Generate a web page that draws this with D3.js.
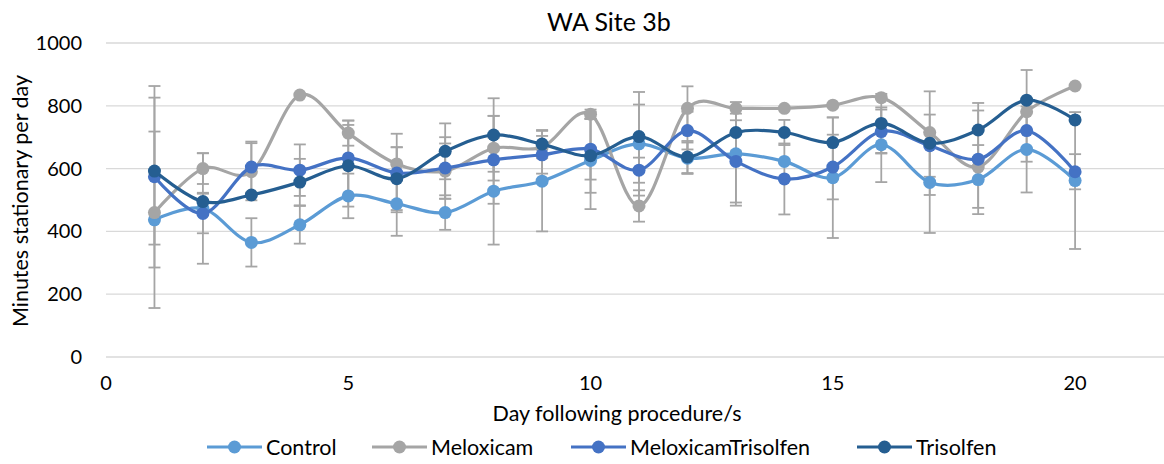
<!DOCTYPE html>
<html>
<head>
<meta charset="utf-8">
<script src="https://cdn.jsdelivr.net/npm/d3@7"></script>
<style>
  body { margin: 0; background: #fff; }
  text { font-family: Lato, 'Noto Sans', sans-serif; fill: #000; }
</style>
</head>
<body>
<div id="svg"></div>
<script>
let w = 1164;
let h = 464;

// data
let days = [1, 2, 3, 4, 5, 6, 7, 8, 9, 10, 11, 12, 13, 14, 15, 16, 17, 18, 19, 20];
let control   = [437, 473, 365, 421, 513, 488, 460, 528, 560, 626, 679, 633, 647, 623, 571, 676, 556, 565, 661, 562];
let meloxicam = [460, 600, 590, 834, 713, 615, 592, 665, 668, 773, 481, 792, 792, 792, 802, 826, 715, 605, 781, 863];
let meloTris  = [574, 457, 605, 595, 634, 586, 602, 628, 644, 662, 595, 721, 623, 567, 605, 718, 673, 630, 721, 590];
let trisolfen = [592, 495, 516, 557, 609, 568, 655, 707, 678, 641, 702, 637, 715, 715, 683, 744, 681, 723, 818, 755];

// +/- error (0 = no bar shown)
let controlErr   = [281, 176, 77, 60, 71, 102, 55, 170, 160, 155, 165, 50, 165, 0, 192, 119, 161, 110, 137, 218];
let meloxicamErr = [0, 49, 91, 0, 40, 53, 88, 103, 0, 15, 50, 70, 0, 0, 0, 0, 0, 0, 0, 0];
let meloTrisErr  = [289, 63, 81, 82, 119, 125, 98, 140, 60, 97, 40, 60, 131, 113, 103, 70, 99, 155, 99, 56];
let trisolfenErr = [234, 28, 0, 74, 130, 100, 89, 117, 45, 118, 102, 51, 60, 40, 80, 94, 165, 86, 96, 0];

let seriesNames = ['Control', 'Meloxicam', 'MeloxicamTrisolfen', 'Trisolfen'];
let yTicks = [0, 200, 400, 600, 800, 1000];
let xTicks = [0, 5, 10, 15, 20];

let colors = ['#5B9BD5', '#A5A5A5', '#4472C4', '#255E91'];
let values = [control, meloxicam, meloTris, trisolfen];
let errs = [controlErr, meloxicamErr, meloTrisErr, trisolfenErr];

let series = seriesNames.map((name, k) => ({
  name: name,
  color: colors[k],
  points: days.map((d, i) => ({ x: d, y: values[k][i], e: errs[k][i] }))
}));

let svg = d3.select('#svg')
  .append('svg')
  .attr('width', w)
  .attr('height', h);

svg.append('rect').attr('width', w).attr('height', h).attr('fill', '#fff');

let xScale = d3.scaleLinear().domain([0, 22]).range([106, 1172]);
let yScale = d3.scaleLinear().domain([0, 1000]).range([357, 43]);

// gridlines
svg.append('g')
  .selectAll('line')
  .data(yTicks)
  .enter()
  .append('line')
  .attr('x1', xScale(0))
  .attr('x2', w)
  .attr('y1', d => yScale(d))
  .attr('y2', d => yScale(d))
  .style('stroke', '#D9D9D9')
  .style('stroke-width', 1.3);

// y tick labels
svg.append('g')
  .selectAll('text')
  .data(yTicks)
  .enter()
  .append('text')
  .attr('x', 82)
  .attr('y', d => yScale(d))
  .attr('dy', '0.35em')
  .attr('text-anchor', 'end')
  .style('font-size', '20px')
  .text(d => d);

// x tick labels
svg.append('g')
  .selectAll('text')
  .data(xTicks)
  .enter()
  .append('text')
  .attr('x', d => xScale(d))
  .attr('y', 390)
  .attr('text-anchor', 'middle')
  .style('font-size', '20px')
  .text(d => d);

// titles
svg.append('text')
  .text('WA Site 3b')
  .attr('x', 609)
  .attr('y', 31)
  .attr('text-anchor', 'middle')
  .style('font-size', '25px');

svg.append('text')
  .text('Day following procedure/s')
  .attr('x', 617)
  .attr('y', 421)
  .attr('text-anchor', 'middle')
  .style('font-size', '21.5px');

svg.append('text')
  .text('Minutes stationary per day')
  .attr('transform', 'translate(28,201) rotate(-90)')
  .attr('text-anchor', 'middle')
  .style('font-size', '21.5px');

// error bars (gray)
let errG = svg.append('g');
series.forEach(s => {
  let pts = s.points.filter(p => p.e > 0);
  let g = errG.append('g');
  g.selectAll('line.stem')
    .data(pts).enter().append('line')
    .attr('x1', p => xScale(p.x)).attr('x2', p => xScale(p.x))
    .attr('y1', p => yScale(p.y + p.e)).attr('y2', p => yScale(p.y - p.e));
  g.selectAll('line.top')
    .data(pts).enter().append('line')
    .attr('x1', p => xScale(p.x) - 6).attr('x2', p => xScale(p.x) + 6)
    .attr('y1', p => yScale(p.y + p.e)).attr('y2', p => yScale(p.y + p.e));
  g.selectAll('line.bot')
    .data(pts).enter().append('line')
    .attr('x1', p => xScale(p.x) - 6).attr('x2', p => xScale(p.x) + 6)
    .attr('y1', p => yScale(p.y - p.e)).attr('y2', p => yScale(p.y - p.e));
  g.selectAll('line').style('stroke', '#A5A5A5').style('stroke-width', 1.8);
});

// smoothed lines + markers
let line = d3.line()
  .x(p => xScale(p.x))
  .y(p => yScale(p.y))
  .curve(d3.curveCardinal.tension(0));

series.forEach(s => {
  svg.append('path')
    .datum(s.points)
    .attr('d', line)
    .style('fill', 'none')
    .style('stroke', s.color)
    .style('stroke-width', 3.2)
    .style('stroke-linejoin', 'round');
  svg.append('g')
    .selectAll('circle')
    .data(s.points)
    .enter()
    .append('circle')
    .attr('cx', p => xScale(p.x))
    .attr('cy', p => yScale(p.y))
    .attr('r', 6.5)
    .style('fill', s.color);
});

// legend
let legendX = [207, 372, 571, 857];
let legend = svg.append('g');
series.forEach((s, k) => {
  let lx = legendX[k];
  let ly = 447;
  legend.append('line')
    .attr('x1', lx).attr('x2', lx + 55)
    .attr('y1', ly).attr('y2', ly)
    .style('stroke', s.color).style('stroke-width', 3.2);
  legend.append('circle')
    .attr('cx', lx + 27.5).attr('cy', ly).attr('r', 6.5)
    .style('fill', s.color);
  legend.append('text')
    .text(s.name)
    .attr('x', lx + 59)
    .attr('y', ly)
    .attr('dy', '0.35em')
    .style('font-size', '21.5px');
});
</script>
</body>
</html>
